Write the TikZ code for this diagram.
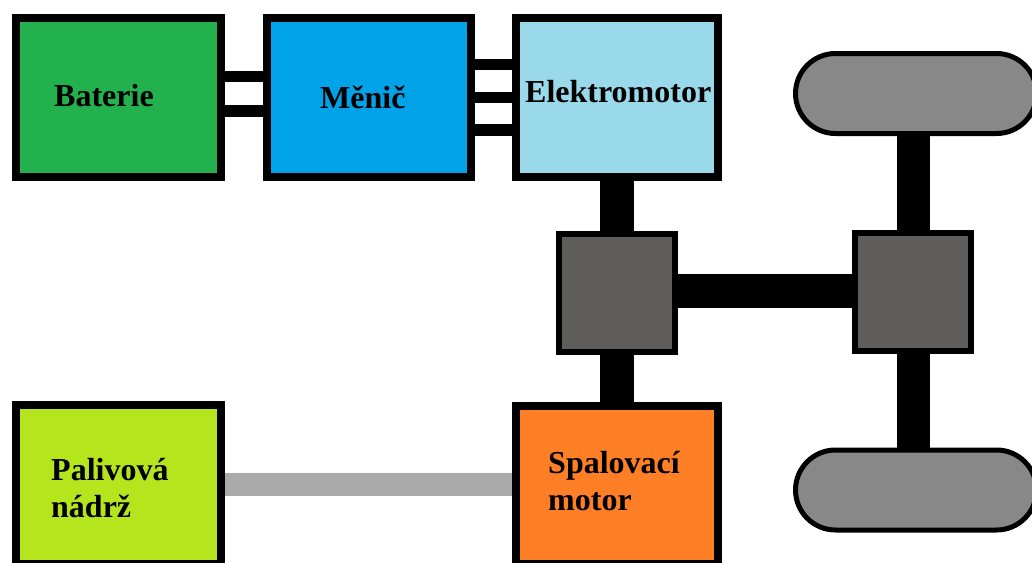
\documentclass[tikz,border=0pt]{standalone}
\usepackage{fontspec}
\setmainfont{Liberation Serif}
\usetikzlibrary{shapes.misc}
\definecolor{cbat}{HTML}{22B14C}
\definecolor{cmen}{HTML}{00A2E8}
\definecolor{cemot}{HTML}{99D9EA}
\definecolor{cpal}{HTML}{B5E61D}
\definecolor{cspal}{HTML}{FF7F27}
\definecolor{cgear}{HTML}{5E5D5C}
\definecolor{cwheel}{HTML}{888888}
\definecolor{cfuel}{HTML}{AAAAAA}
\begin{document}
\begin{tikzpicture}[x=1pt,y=-1pt,
  box/.style={draw=black, line width=8pt, rectangle, inner sep=0pt},
  gear/.style={draw=black, line width=6pt, fill=cgear, rectangle, inner sep=0pt,
    minimum width=116pt, minimum height=118pt},
  wheel/.style={rounded rectangle, draw=black, line width=5pt, fill=cwheel, inner sep=0pt,
    minimum width=241pt, minimum height=80pt},
  lbl/.style={anchor=base west, inner sep=0pt, font=\bfseries\fontsize{32}{37}\selectfont},
  wire/.style={line width=11.5pt, draw=black},
  shaft/.style={line width=34pt, draw=black},
  fuel/.style={line width=23pt, draw=cfuel}]
\useasboundingbox (0,0) rectangle (1032,562);
% boxes
\node[box, fill=cbat, minimum width=205pt, minimum height=159pt] (bat) at (118.5,97.5) {};
\node[box, fill=cmen, minimum width=204pt, minimum height=159pt] (men) at (369,97.5) {};
\node[box, fill=cemot, minimum width=202pt, minimum height=159pt] (emot) at (617,97.5) {};
\node[box, fill=cspal, minimum width=202pt, minimum height=158pt] (spal) at (617,485) {};
\node[box, fill=cpal, minimum width=205pt, minimum height=159pt] (pal) at (118.5,484.5) {};
\node[gear] (gb1) at (617,293) {};
\node[gear] (gb2) at (913,292) {};
\node[wheel] (wt) at (916,93.5) {};
\node[wheel] (wb) at (916,490) {};
% connectors
\draw[wire] (bat.east |- 0,76.5) -- (men.west |- 0,76.5);
\draw[wire] (bat.east |- 0,111) -- (men.west |- 0,111);
\draw[wire] (men.east |- 0,64.5) -- (emot.west |- 0,64.5);
\draw[wire] (men.east |- 0,97.5) -- (emot.west |- 0,97.5);
\draw[wire] (men.east |- 0,130) -- (emot.west |- 0,130);
\draw[shaft] (emot.south) -- (gb1.north);
\draw[shaft] (gb1.south) -- (spal.north);
\draw[shaft] (gb1.east |- 0,290.5) -- (gb2.west |- 0,290.5);
\draw[shaft, line width=33pt] (gb2.north) -- (gb2.north |- wt.south);
\draw[shaft, line width=33pt] (gb2.south) -- (gb2.south |- wb.north);
\draw[fuel] (pal.east |- 0,484.5) -- (spal.west |- 0,484.5);
% labels
\node[lbl] (tbat) at (54,106) {Baterie};
\node[lbl] (tmen) at (320,108) {Měnič};
\node[lbl] (temot) at (525,102) {Elektromotor};
\node[lbl] (tspal1) at (548,473) {Spalovací};
\node[lbl] (tspal2) at (548,510) {motor};
\node[lbl] (tpal1) at (51,480) {Palivová};
\node[lbl] (tpal2) at (51,517) {nádrž};
\end{tikzpicture}
\end{document}
